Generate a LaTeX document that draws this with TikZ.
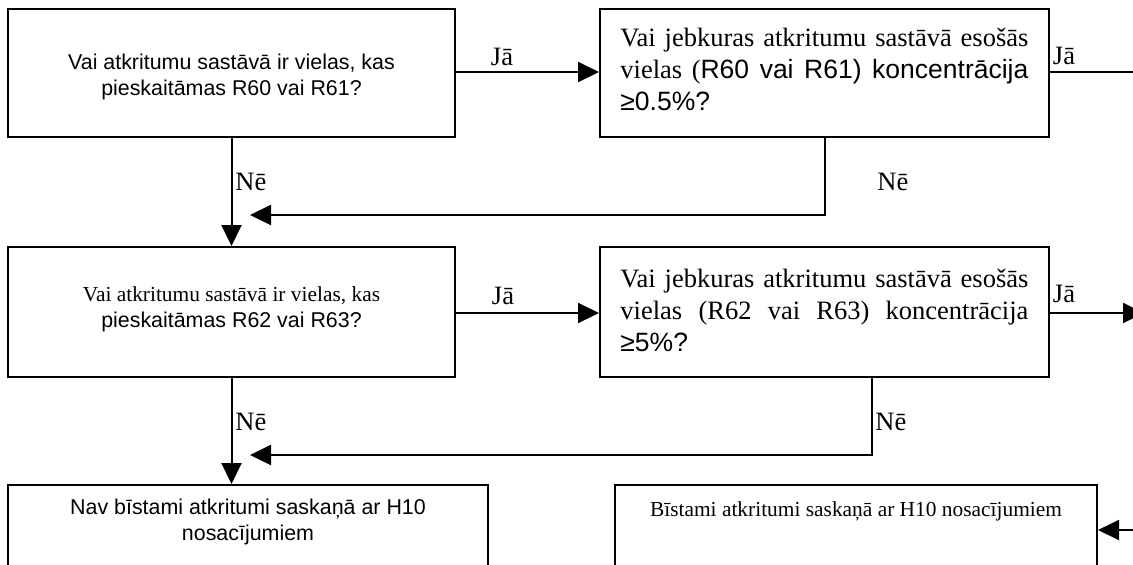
\documentclass[tikz,border=0pt]{standalone}
\usepackage{fontspec}
\setmainfont{Liberation Serif}
\newfontfamily\arl{Liberation Sans}
\usetikzlibrary{arrows.meta}
\newcommand\fsbig{\fontsize{13.25}{16}\selectfont}
\newcommand\fssmall{\fontsize{10.7}{13.2}\selectfont}
\tikzset{
  box/.style={draw, line width=1pt, inner sep=0pt},
  wire/.style={line width=1pt},
  arr/.style={line width=1pt, -{Triangle[length=10.5pt,width=10pt]}},
  lbl/.style={font=\fsbig, inner sep=0pt},
  txt/.style={inner sep=0pt},
}
\begin{document}
\begin{tikzpicture}[x=0.5pt,y=-0.5pt]
\useasboundingbox (0,0) rectangle (1133,564);
\clip (0,0) rectangle (1133,564);

% decision boxes
\node[box, minimum width=223.5pt, minimum height=64pt] (b1) at (231.5,73) {};
\node[box, minimum width=224.5pt, minimum height=64pt] (b2) at (824.5,73) {};
\node[box, minimum width=223.5pt, minimum height=65pt] (b3) at (231.5,312) {};
\node[box, minimum width=224.5pt, minimum height=65pt] (b4) at (824.5,312) {};
% outcome boxes (run past the lower edge)
\node[box, minimum width=240pt, minimum height=67.5pt] (b5) at (248,552.5) {};
\node[box, minimum width=241pt, minimum height=67.5pt] (b6) at (856,552.5) {};

% box texts
\node[txt, align=center, font=\arl\fssmall] (t1) at (231.5,77)
  {Vai atkritumu sastāvā ir vielas, kas\\pieskaitāmas R60 vai R61?};
\node[txt, anchor=west, align=left, font=\fsbig] (t2) at (620,69)
  {\makebox[204pt][s]{Vai jebkuras atkritumu sastāvā esošās}\\
   \makebox[204pt][s]{vielas (\arl R60 vai R61) koncentrācija}\\
   {\arl ≥0.5\%?}};
\node[txt, align=center, font=\fssmall] (t3) at (231.5,309)
  {Vai atkritumu sastāvā ir vielas, kas\\{\arl pieskaitāmas R62 vai R63?}};
\node[txt, anchor=west, align=left, font=\fsbig] (t4) at (620,310)
  {\makebox[204pt][s]{Vai jebkuras atkritumu sastāvā esošās}\\
   \makebox[204pt][s]{vielas (R62 vai R63) koncentrācija}\\
   {\arl ≥5\%?}};
\node[txt, align=center, font=\arl\fssmall] (t5) at (248,522)
  {Nav bīstami atkritumi saskaņā ar H10\\nosacījumiem};
\node[txt, font=\fssmall] (t6) at (856,511)
  {Bīstami atkritumi saskaņā ar H10 nosacījumiem};

% free ends and bends
\coordinate (e1) at (1140,72);
\coordinate (e2) at (1144,313);
\coordinate (e3) at (1140,530);
\coordinate (m1) at (250,215);
\coordinate (v2) at (872,377);
\coordinate (m2) at (250,455);

% connectors
\draw[arr] (b1.east |- e1) -- (b2.west |- e1);
\draw[wire] (b2.east |- e1) -- (e1);
\draw[arr] (b1.south) -- (b3.north);
\draw[arr] (b2.south) |- (m1);
\draw[arr] (b3.east |- e2) -- (b4.west |- e2);
\draw[arr] (b4.east |- e2) -- (e2);
\draw[arr] (b3.south) -- (b3.south |- b5.north);
\draw[arr] (v2) |- (m2);
\draw[arr] (e3) -- (b6.east |- e3);

% branch labels
\node[lbl] (ja1) at (502,57) {Jā};
\node[lbl] (ja2) at (1064,56) {Jā};
\node[lbl] (ja3) at (503,296) {Jā};
\node[lbl] (ja4) at (1064,294) {Jā};
\node[lbl, anchor=west] (ne1) at (235,182) {Nē};
\node[lbl, anchor=west] (ne2) at (877,182) {Nē};
\node[lbl, anchor=west] (ne3) at (235,422) {Nē};
\node[lbl, anchor=west] (ne4) at (875,422) {Nē};
\end{tikzpicture}
\end{document}
